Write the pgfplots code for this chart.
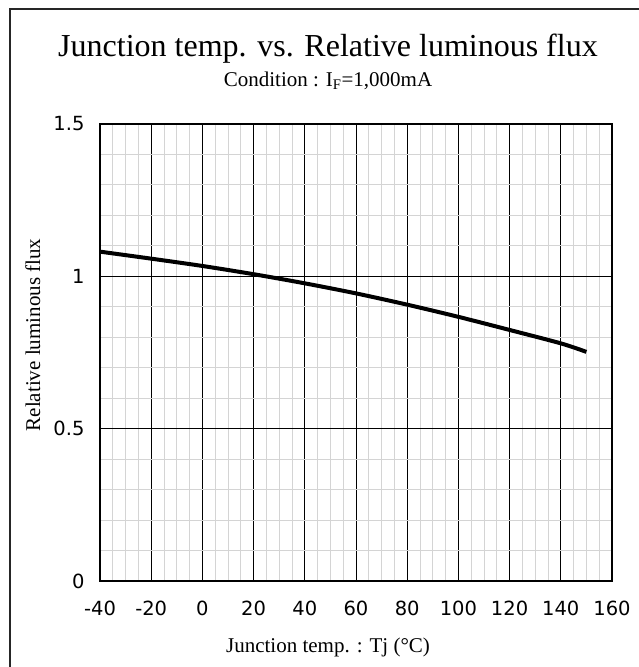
\documentclass[border=0pt]{standalone}
\usepackage{pgfplots}
\pgfplotsset{compat=1.18}
\usepackage{fontspec}
\setmainfont{Liberation Serif}
\newfontfamily\ticksfont{DejaVu Sans}
\definecolor{minorgrid}{RGB}{212,212,212}
\begin{document}
\begin{tikzpicture}
\useasboundingbox (0,0) rectangle (639pt,667pt);
\draw[line width=1.2pt, black!85] (10pt,-2pt) -- (10pt,658pt) -- (641pt,658pt);
\begin{axis}[
  at={(100pt,86pt)}, anchor=south west,
  scale only axis, width=512pt, height=457pt,
  xmin=-40, xmax=160, ymin=0, ymax=1.5,
  xtick={-40,-20,0,20,40,60,80,100,120,140,160},
  xticklabels={-40,-20,0,20,40,60,80,100,120,140,160},
  ytick={0,0.5,1,1.5},
  yticklabels={0,0.5,1,1.5},
  minor x tick num=3,
  minor y tick num=4,
  grid=both,
  major grid style={black, line width=0.8pt},
  minor grid style={minorgrid, line width=1pt},
  major tick length=0pt, minor tick length=0pt,
  axis line style={black, line width=1.3pt},
  tick label style={font=\ticksfont\fontsize{19.5}{22}\selectfont},
  xticklabel style={yshift=-16pt},
  yticklabel style={xshift=-12pt},
]
\addplot[black, line width=4pt, smooth] coordinates {
(-40,1.081) (-20,1.058) (0,1.034) (20,1.007) (40,0.977) (60,0.944)
(80,0.907) (100,0.867) (120,0.824) (140,0.780) (150,0.752)
};
\end{axis}
\node[anchor=base, inner sep=0pt, font=\fontsize{32}{36}\selectfont] at (328pt,610pt) {Junction temp. vs. Relative luminous flux};
\node[anchor=base, inner sep=0pt, font=\fontsize{21}{24}\selectfont] at (328pt,580.5pt) {Condition : I\textsubscript{F}=1,000mA};
\node[anchor=base, inner sep=0pt, font=\fontsize{21}{24}\selectfont] at (328pt,15pt) {Junction temp. : Tj (°C)};
\node[anchor=base, inner sep=0pt, rotate=90, font=\fontsize{21}{24}\selectfont] at (40pt,332pt) {Relative luminous flux};
\end{tikzpicture}
\end{document}
